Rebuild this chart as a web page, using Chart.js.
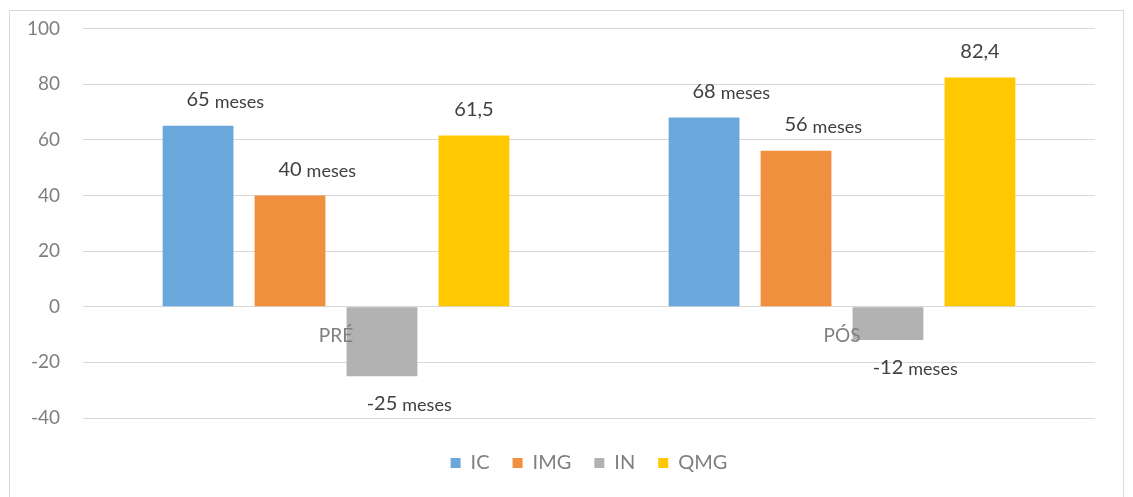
<!DOCTYPE html>
<html>
<head>
<meta charset="utf-8">
<script src="https://cdn.jsdelivr.net/npm/chart.js@4/dist/chart.umd.min.js"></script>
<style>
  body { margin: 0; background: #fff; }
  .frame {
    position: absolute; left: 9px; top: 10px;
    width: 1113px; height: 500px;
    border: 1px solid #d9d9d9; box-sizing: content-box;
  }
  .frame canvas { display: block; margin-top: -17px; }
</style>
</head>
<body>
<div class="frame">
  <canvas id="chart" width="1113" height="500" style="width:1113px;height:500px"></canvas>
</div>
<script>
// ==============================
// Datos del gráfico
// ==============================
const categorias = ['PRÉ', 'PÓS'];
const series = ['IC', 'IMG', 'IN', 'QMG'];
const valoresIC = [65, 68];
const valoresIMG = [40, 56];
const valoresIN = [-25, -12];
const valoresQMG = [61.5, 82.4];
const unidades = ['meses', 'meses', 'meses', ''];
const yTicks = [-40, -20, 0, 20, 40, 60, 80, 100];

const colores = ['#6AA8DC', '#F08F3E', '#B2B2B2', '#FFC800'];
const FONT = 'Lato, "Open Sans", sans-serif';

// Etiquetas de valor: número centrado en la barra + "meses" más pequeño
const etiquetasPlugin = {
  id: 'etiquetas',
  afterDatasetsDraw(chart) {
    const ctx = chart.ctx;
    ctx.save();
    ctx.textBaseline = 'middle';
    chart.data.datasets.forEach((ds, i) => {
      const meta = chart.getDatasetMeta(i);
      meta.data.forEach((bar, j) => {
        const v = ds.data[j];
        const num = String(v).replace('.', ',');
        const y = v >= 0 ? bar.y - 26 : bar.y + 27;
        ctx.font = '20px ' + FONT;
        ctx.fillStyle = '#404040';
        const w = ctx.measureText(num).width;
        ctx.textAlign = 'left';
        ctx.fillText(num, bar.x - w / 2, y);
        if (unidades[i]) {
          ctx.font = '18px ' + FONT;
          ctx.fillText(unidades[i], bar.x + w / 2 + 5, y + 2);
        }
      });
    });
    ctx.restore();
  }
};

new Chart(document.getElementById('chart'), {
  type: 'bar',
  data: {
    labels: categorias,
    datasets: [valoresIC, valoresIMG, valoresIN, valoresQMG].map((d, i) => ({
      label: series[i],
      data: d,
      backgroundColor: colores[i],
      categoryPercentage: 0.727,
      barPercentage: 0.77
    }))
  },
  options: {
    responsive: false,
    animation: false,
    layout: { padding: { left: 0, right: 28, top: 0, bottom: 11 } },
    plugins: {
      tooltip: { enabled: false },
      legend: {
        position: 'bottom',
        fullSize: false,
        labels: {
          boxWidth: 10, boxHeight: 10, padding: 23,
          color: '#7f7f7f',
          font: { family: FONT, size: 20 }
        }
      }
    },
    scales: {
      x: {
        position: { y: 0 },
        grid: { display: false, drawTicks: false },
        border: { display: false },
        // z: 1 -> etiquetas de categoría por encima de las barras
        ticks: { z: 1, color: '#7f7f7f', padding: 18, font: { family: FONT, size: 19 } }
      },
      y: {
        // un poco por debajo de -40 para dejar el hueco hasta la leyenda
        min: -44.3, max: 100,
        afterBuildTicks(scale) { scale.ticks = yTicks.map(v => ({ value: v })); },
        grid: { color: '#d9d9d9', drawTicks: false },
        border: { display: false },
        ticks: { color: '#7f7f7f', padding: 23, font: { family: FONT, size: 19 } },
        afterFit(scale) { scale.width = 73; }
      }
    }
  },
  plugins: [etiquetasPlugin]
});
</script>
</body>
</html>
